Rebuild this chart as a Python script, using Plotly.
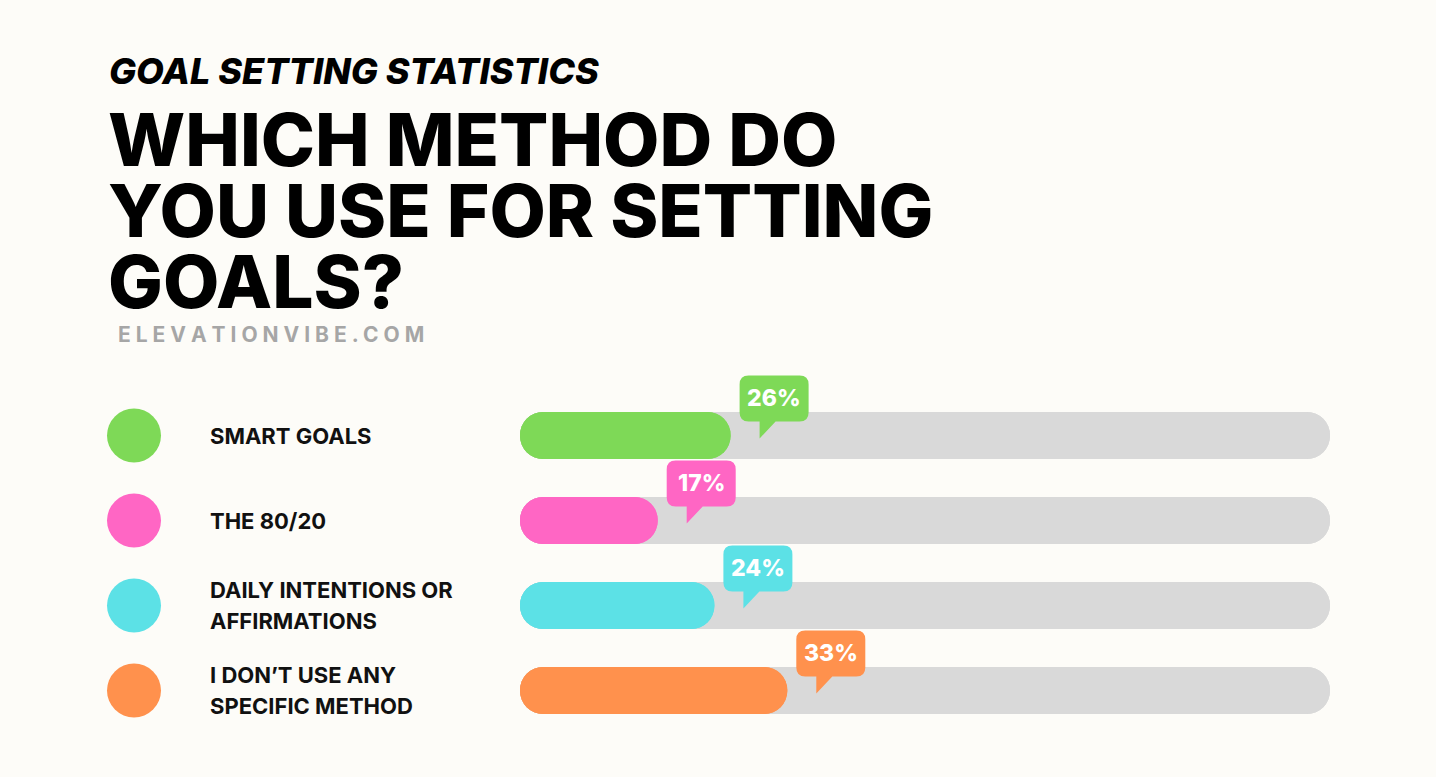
import plotly.graph_objects as go

# ---- data ----
CATEGORIES = ["SMART GOALS", "THE 80/20", "DAILY INTENTIONS OR AFFIRMATIONS", "I DON\u2019T USE ANY SPECIFIC METHOD"]
LABEL_LINES = [["SMART GOALS"], ["THE 80/20"], ["DAILY INTENTIONS OR", "AFFIRMATIONS"], ["I DON\u2019T USE ANY", "SPECIFIC METHOD"]]
VALUES = [26, 17, 24, 33]
TOTAL = 100
KICKER = "GOAL SETTING STATISTICS"
TITLE_LINES = ["WHICH METHOD DO", "YOU USE FOR SETTING", "GOALS?"]
SOURCE = "ELEVATIONVIBE.COM"

# ---- style ----
COLORS = ["#7ED957", "#FF66C4", "#5CE1E6", "#FF914D"]
TRACK = "#D9D9D9"
BG = "#FDFCF8"
W, H = 1436, 777
X0_PX, PX_PER = 520, 8.1          # bar scale: 0% at 520px, 8.1px per %
ROW0_PX, ROW_PX = 435.5, 85       # row centre of first row, row pitch
BAR_PX = 47
FONT = "Inter"

idx = list(range(len(CATEGORIES)))
xr = [(0 - X0_PX) / PX_PER, (W - X0_PX) / PX_PER]
yr = [(H - ROW0_PX) / ROW_PX, (0 - ROW0_PX) / ROW_PX]

def px_to_x(px):
    return (px - X0_PX) / PX_PER

fig = go.Figure()
bw = BAR_PX / ROW_PX
totals = [TOTAL] * len(idx)
# track (drawn forward and backward so both ends are rounded)
fig.add_trace(go.Bar(y=idx, x=totals, base=0, orientation="h", width=bw,
                     marker=dict(color=TRACK, line=dict(width=0)), hoverinfo="skip"))
fig.add_trace(go.Bar(y=idx, x=[-t for t in totals], base=totals, orientation="h", width=bw,
                     marker=dict(color=TRACK, line=dict(width=0)), hoverinfo="skip"))
# coloured bars, rounded at value end
fig.add_trace(go.Bar(y=idx, x=VALUES, base=0, orientation="h", width=bw,
                     marker=dict(color=COLORS, line=dict(width=0)), hoverinfo="skip"))
# same bars drawn backward so the base end gets rounded too
fig.add_trace(go.Bar(y=idx, x=[-v for v in VALUES], base=VALUES, orientation="h", width=bw,
                     marker=dict(color=COLORS, line=dict(width=0)), hoverinfo="skip"))
# legend dots
fig.add_trace(go.Scatter(x=[px_to_x(134)] * len(idx), y=idx, mode="markers",
                         marker=dict(size=54, color=COLORS, line=dict(width=0)), hoverinfo="skip"))

annotations = []
shapes = []
# category labels
for i, lines in enumerate(LABEL_LINES):
    n = len(lines)
    for j, t in enumerate(lines):
        off = (j - (n - 1) / 2) * 31
        annotations.append(dict(x=px_to_x(208), y=i, xref="x", yref="y", text=t, showarrow=False,
                                xanchor="left", yanchor="middle", yshift=-off,
                                font=dict(family=FONT, size=22, color="#111111", weight=700)))

# speech bubbles
L, R, B, T, r = 9, 78, 14, 60, 9
tx0, ty, tx1 = 29, -3, 45
path = (f"M {L+r},{B} L {tx0},{B} L {tx0},{ty} L {tx1},{B} L {R-r},{B} Q {R},{B} {R},{B+r} "
        f"L {R},{T-r} Q {R},{T} {R-r},{T} L {L+r},{T} Q {L},{T} {L},{T-r} L {L},{B+r} Q {L},{B} {L+r},{B} Z")
for i, v in enumerate(VALUES):
    shapes.append(dict(type="path", xref="x", yref="y", xsizemode="pixel", ysizemode="pixel",
                       xanchor=v, yanchor=i, path=path, fillcolor=COLORS[i], line=dict(width=0),
                       layer="above"))
    annotations.append(dict(x=v, y=i, xref="x", yref="y", text=f"{v}%", showarrow=False,
                            xshift=(L + R) / 2, yshift=(B + T) / 2 + 1, xanchor="center", yanchor="middle",
                            font=dict(family=FONT, size=23, color="white", weight=800)))

# titles
def pyp(px):
    return 1 - px / H

annotations.append(dict(x=107 / W, y=pyp(70.5), xref="paper", yref="paper", text=f"<i>{KICKER}</i>",
                        showarrow=False, xanchor="left", yanchor="middle",
                        font=dict(family=FONT, size=36, color="#000000", weight=800)))
title_centres = [138.5, 210, 280.5]
for k, t in enumerate(TITLE_LINES):
    annotations.append(dict(x=106 / W, y=pyp(title_centres[k]), xref="paper", yref="paper", text=t,
                            showarrow=False, xanchor="left", yanchor="middle", height=70, valign="middle",
                            font=dict(family=FONT, size=73, color="#000000", weight=800)))
annotations.append(dict(x=116 / W, y=pyp(334.5), xref="paper", yref="paper", text=" ".join(SOURCE),
                        showarrow=False, xanchor="left", yanchor="middle",
                        font=dict(family=FONT, size=21, color="#A6A6A6", weight=700)))

fig.update_layout(
    width=W, height=H, autosize=False,
    margin=dict(l=0, r=0, t=0, b=0, pad=0),
    paper_bgcolor=BG, plot_bgcolor=BG,
    barmode="overlay", barcornerradius="50%",
    showlegend=False,
    xaxis=dict(range=xr, visible=False, fixedrange=True, domain=[0, 1]),
    yaxis=dict(range=yr, visible=False, fixedrange=True, domain=[0, 1]),
    annotations=annotations, shapes=shapes,
)
fig.write_html("out.html", config={"displayModeBar": False},
               post_script="document.body.style.margin='0';document.body.style.overflow='hidden';"
                           "document.body.style.background='" + BG + "';")
